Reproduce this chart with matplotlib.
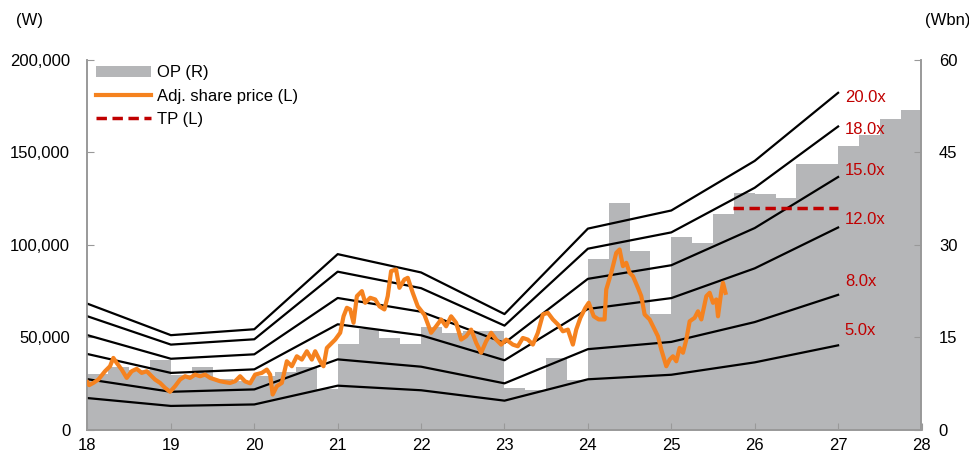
import matplotlib
matplotlib.use("Agg")
import matplotlib.pyplot as plt
import numpy as np

plt.rcParams['font.family'] = ['Liberation Sans', 'DejaVu Sans']

# PER band: EPS at start of each year, multiples
band_years = [18, 19, 20, 21, 22, 23, 24, 25, 26, 27]
eps = [3400, 2550, 2710, 4740, 4245, 3120, 5430, 5920, 7260, 9100]
multiples = [20, 18, 15, 12, 8, 5]
mult_labels = ['20.0x', '18.0x', '15.0x', '12.0x', '8.0x', '5.0x']

# quarterly OP (Wbn), 18Q1 .. 27Q4
op = [9.0, 10.1, 9.6, 11.3,
      8.8, 10.2, 8.2, 7.8,
      8.6, 9.3, 10.1, 6.5,
      13.9, 16.3, 14.9, 13.9,
      16.6, 15.7, 16.0, 16.0,
      6.8, 6.4, 11.6, 8.1,
      27.6, 36.8, 28.9, 18.8,
      31.3, 30.2, 34.9, 38.4,
      38.2, 37.6, 43.0, 43.0,
      46.0, 47.8, 50.4, 51.8]

# adjusted share price (W)
price_t = [18.00, 18.02, 18.07, 18.13, 18.21, 18.27, 18.31, 18.35, 18.41, 18.47, 18.53, 18.59,
           18.65, 18.71, 18.77, 18.81, 18.87, 18.93,
           18.99, 19.05, 19.11, 19.17, 19.23, 19.29, 19.35, 19.41, 19.47, 19.53, 19.59, 19.65,
           19.71, 19.77, 19.83, 19.89, 19.95,
           20.01, 20.09, 20.15, 20.19, 20.22, 20.27, 20.33, 20.39, 20.45, 20.51, 20.57, 20.63,
           20.69, 20.73, 20.79, 20.83, 20.87, 20.93,
           20.97, 21.03, 21.07, 21.11, 21.15, 21.19, 21.23, 21.29, 21.33, 21.39, 21.45, 21.50,
           21.56, 21.60, 21.64, 21.70, 21.74, 21.80, 21.84, 21.90,
           21.96, 22.04, 22.12, 22.18, 22.24, 22.30, 22.36, 22.42, 22.48, 22.54, 22.60, 22.66,
           22.72, 22.78, 22.84, 22.90,
           22.96, 23.02, 23.10, 23.16, 23.22, 23.28, 23.34, 23.40, 23.46, 23.52, 23.58, 23.64,
           23.70, 23.76, 23.82, 23.86, 23.91,
           23.97, 24.01, 24.07, 24.13, 24.20, 24.22, 24.28, 24.34, 24.38, 24.42, 24.46, 24.50,
           24.54, 24.60, 24.64, 24.68, 24.74, 24.80, 24.84, 24.88, 24.94,
           24.98, 25.02, 25.06, 25.10, 25.14, 25.18, 25.22, 25.28, 25.32, 25.36, 25.42, 25.46,
           25.50, 25.54, 25.56, 25.60, 25.62, 25.65]
price_v = [25500, 24000, 25200, 27000, 31500, 34200, 38700, 36000, 32400, 27900, 31500, 32800,
           30600, 31500, 28800, 27000, 25200, 22500,
           20400, 23400, 27000, 28800, 27900, 29700, 28800, 29700, 27900, 27000, 26100, 25600,
           25200, 26100, 28800, 26000, 25000,
           29700, 30600, 32400, 29700, 18900, 23400, 25200, 36900, 34200, 39600, 37800, 42300,
           37800, 42300, 36900, 34200, 44100, 46800,
           48600, 52300, 61200, 65800, 64900, 57700, 72100, 74800, 68500, 71200, 70300, 66600,
           64900, 72100, 85600, 86500, 76600, 81100, 82000, 73900,
           66600, 62000, 52300, 55800, 59500, 55800, 61200, 57700, 48600, 50400, 54000, 46900,
           41500, 47700, 52300, 48600,
           45900, 48600, 45900, 45000, 49500, 48600, 45900, 52300, 62200, 63100, 59500, 56800,
           53100, 54000, 45900, 54000, 60400,
           65800, 68500, 61200, 59500, 59500, 75700, 84700, 95500, 97300, 88300, 90100, 84700,
           82900, 76600, 72100, 62200, 59500, 54000, 50400, 43200, 34200,
           37800, 39600, 36900, 44100, 41500, 48600, 58500, 60400, 63900, 59500, 72100, 73900,
           68500, 70300, 61200, 74800, 79300, 73900]

tp = 120000
tp_start, tp_end = 25.74, 27.0

bar_col = '#B5B6B8'
orange = '#F5821F'
red = '#C00000'
spine_col = '#999999'

fig = plt.figure(figsize=(9.7, 4.65), dpi=100)
ax_op = fig.add_axes([0.0902, 0.0763, 0.8598, 0.7957])
ax = ax_op.twinx()

# bars on the right axis, drawn underneath
q_start = 18 + np.arange(len(op)) * 0.25
ax_op.bar(q_start, op, width=0.25, align='edge', color=bar_col, linewidth=0, label='OP (R)')
ax_op.set_ylim(0, 60)
ax_op.set_yticks([0, 15, 30, 45, 60])
ax_op.yaxis.tick_right()

# PER band lines
eps = np.array(eps)
for m in multiples:
    ax.plot(band_years, eps * m, color='black', lw=1.6, zorder=2)
offsets = [-5, -3, 6, 8, 13, 15]
for m, lab, off in zip(multiples, mult_labels, offsets):
    ax.annotate(lab, (27.08, eps[-1] * m), xytext=(0, off), textcoords='offset pixels',
                color=red, fontsize=12, va='center', ha='left')

ax.plot(price_t, price_v, color=orange, lw=3.0, zorder=3, label='Adj. share price (L)')
ax.plot([tp_start, tp_end], [tp, tp], color=red, lw=2.5, ls=(0, (3, 1.6)), zorder=4, label='TP (L)')

ax.set_ylim(0, 200000)
ax.set_yticks([0, 50000, 100000, 150000, 200000])
ax.set_yticklabels([f'{v:,}' for v in [0, 50000, 100000, 150000, 200000]])
ax.yaxis.tick_left()
ax.set_xlim(18, 28)
ax_op.set_xticks(range(18, 29))

for a in (ax, ax_op):
    a.spines['top'].set_visible(False)
    for s in ('left', 'right', 'bottom'):
        a.spines[s].set_color(spine_col)
        a.spines[s].set_linewidth(1.2)
    a.tick_params(direction='in', length=5, color=spine_col, labelsize=12, labelcolor='black')
ax.tick_params(axis='y', pad=12.5)
ax_op.tick_params(axis='y', pad=12.5)
ax_op.tick_params(axis='x', pad=6)

fig.text(0.016, 0.955, '(W)', fontsize=12, va='center')
fig.text(0.954, 0.955, '(Wbn)', fontsize=12, va='center')

h1, l1 = ax_op.get_legend_handles_labels()
h2, l2 = ax.get_legend_handles_labels()
ax.legend(h1 + h2, l1 + l2, loc='upper left', bbox_to_anchor=(-0.008, 1.025), frameon=False,
          fontsize=12, handlelength=3.3, handletextpad=0.4, labelspacing=0.5)

fig.savefig('out.png', dpi=100)
